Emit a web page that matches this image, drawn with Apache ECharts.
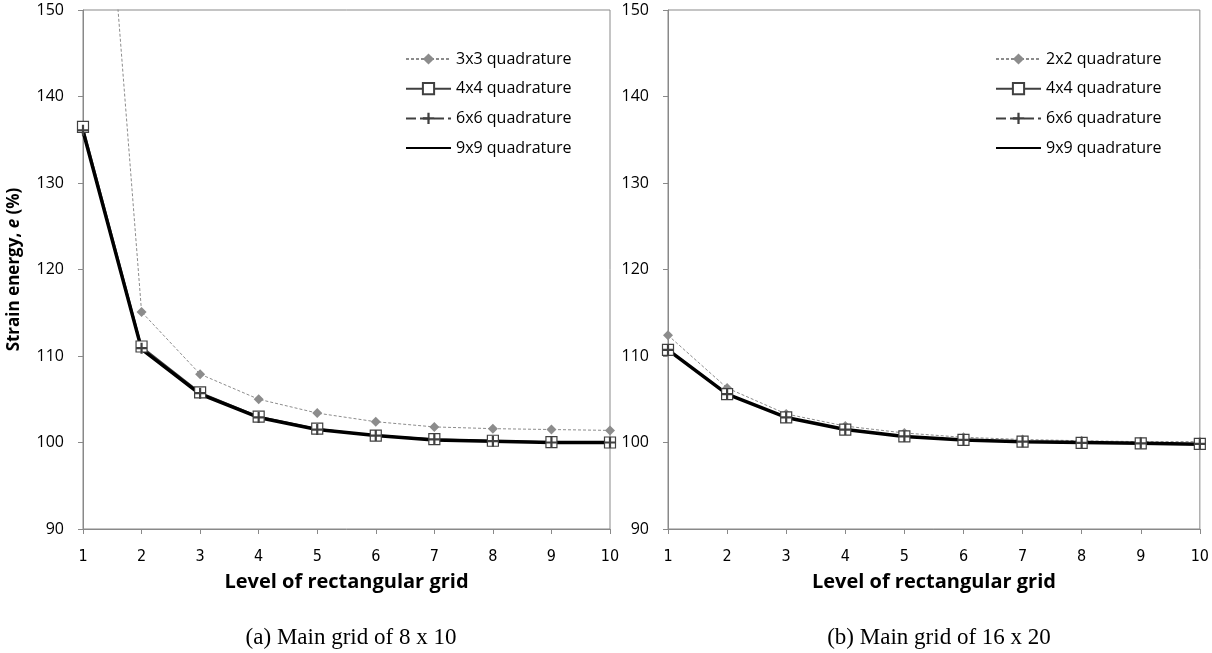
<!DOCTYPE html>
<html>
<head>
<meta charset="utf-8">
<script src="https://cdn.jsdelivr.net/npm/echarts@6/dist/echarts.min.js"></script>
<style>
  html, body { margin: 0; padding: 0; background: #fff; }
  #chart { width: 1212px; height: 653px; }
</style>
</head>
<body>
<div id="chart"></div>
<script>
// levels of the rectangular grid
const levels = [1, 2, 3, 4, 5, 6, 7, 8, 9, 10];

// (a) main grid of 8 x 10
const a_q3 = [202, 115.1, 107.9, 105.0, 103.4, 102.4, 101.8, 101.6, 101.5, 101.4];
const a_q4 = [136.5, 111.1, 105.8, 103.0, 101.6, 100.8, 100.4, 100.2, 100.05, 100.0];
const a_q6 = [136.1, 110.9, 105.7, 102.9, 101.5, 100.8, 100.35, 100.15, 100.0, 100.0];
const a_q9 = [136.0, 110.8, 105.6, 102.9, 101.5, 100.8, 100.3, 100.15, 100.0, 100.0];

// (b) main grid of 16 x 20
const b_q2 = [112.4, 106.3, 103.3, 101.9, 101.1, 100.6, 100.35, 100.2, 100.1, 100.1];
const b_q4 = [110.7, 105.6, 102.9, 101.5, 100.7, 100.3, 100.1, 99.95, 99.9, 99.85];
const b_q6 = [110.7, 105.6, 102.9, 101.5, 100.7, 100.3, 100.1, 99.95, 99.9, 99.85];
const b_q9 = [110.7, 105.6, 102.9, 101.5, 100.7, 100.3, 100.1, 100.0, 99.9, 99.8];

const yTicks = [90, 100, 110, 120, 130, 140, 150];

const pair = (vals) => levels.map((x, i) => [x, vals[i]]);

const narrowFont = '"Liberation Sans Narrow", "DejaVu Sans Condensed", "Open Sans", sans-serif';
const sansFont = '"Open Sans", "Noto Sans", sans-serif';
const axisGray = '#898989';
const plusPath = 'path://M4,0H6V4H10V6H6V10H4V6H0V4H4Z';

function makeSeries(name, data, idx, kind) {
  const s = { name: name, type: 'line', xAxisIndex: idx, yAxisIndex: idx, data: pair(data), animation: false };
  if (kind === 'thin') {
    s.symbol = 'diamond'; s.symbolSize = 10;
    s.itemStyle = { color: '#8c8c8c' };
    s.lineStyle = { color: '#8c8c8c', width: 1, type: [3, 2] };
  } else if (kind === 'square') {
    s.symbol = 'rect'; s.symbolSize = 11;
    s.itemStyle = { color: '#fff', borderColor: '#404040', borderWidth: 1.2 };
    s.lineStyle = { color: '#404040', width: 1.5 };
  } else if (kind === 'plus') {
    s.symbol = plusPath; s.symbolSize = 11;
    s.itemStyle = { color: '#404040' };
    s.lineStyle = { color: '#404040', width: 1.5, type: [10, 4] };
  } else {
    s.symbol = 'none';
    s.itemStyle = { color: '#000' };
    s.lineStyle = { color: '#000', width: 3.5 };
  }
  return s;
}

function xAxisFor(idx) {
  return {
    type: 'value', gridIndex: idx, min: 1, max: 10, interval: 1,
    name: 'Level of rectangular grid', nameLocation: 'middle', nameGap: 43,
    nameTextStyle: { fontFamily: sansFont, fontWeight: 'bold', fontSize: 20, color: '#000' },
    axisLine: { lineStyle: { color: axisGray, width: 1 } },
    axisTick: { length: 5, lineStyle: { color: axisGray } },
    axisLabel: { fontFamily: narrowFont, fontSize: 16, color: '#000', margin: 20 },
    splitLine: { show: false }
  };
}

function yAxisFor(idx, withName) {
  const ax = {
    type: 'value', gridIndex: idx, min: yTicks[0], max: yTicks[yTicks.length - 1], interval: 10,
    axisLine: { show: true, lineStyle: { color: axisGray, width: 1 } },
    axisTick: { show: true, length: 5, lineStyle: { color: axisGray } },
    axisLabel: { fontFamily: sansFont, fontSize: 16, color: '#000', margin: 19 },
    splitLine: { show: false }
  };
  if (withName) {
    ax.name = '{b|Strain energy, }{i|e}{b| (%)}';
    ax.nameLocation = 'middle';
    ax.nameGap = 60;
    ax.nameTextStyle = {
      rich: {
        b: { fontFamily: sansFont, fontWeight: 'bold', fontSize: 17, color: '#000' },
        i: { fontFamily: sansFont, fontWeight: 'bold', fontStyle: 'italic', fontSize: 17, color: '#000' }
      }
    };
  }
  return ax;
}

function legendFor(names, left) {
  return {
    data: names.map((n, i) => i === 3 ? { name: n, itemStyle: { opacity: 0 } } : n),
    orient: 'vertical', left: left, top: 46, itemGap: 13.7,
    itemWidth: 45, itemHeight: 14,
    textStyle: { fontFamily: sansFont, fontSize: 16, color: '#000', lineHeight: 14 },
    selectedMode: false
  };
}

const chart = echarts.init(document.getElementById('chart'), null, { renderer: 'canvas' });
chart.setOption({
  backgroundColor: '#fff',
  title: [
    { text: '(a) Main grid of 8 x 10', left: 346, top: 621, textAlign: 'center',
      textStyle: { fontFamily: '"Liberation Serif", serif', fontWeight: 'normal', fontSize: 23, color: '#000' } },
    { text: '(b) Main grid of 16 x 20', left: 934, top: 621, textAlign: 'center',
      textStyle: { fontFamily: '"Liberation Serif", serif', fontWeight: 'normal', fontSize: 23, color: '#000' } }
  ],
  legend: [
    legendFor(['3x3 quadrature', '4x4 quadrature', '6x6 quadrature', '9x9 quadrature'], 400),
    legendFor(['2x2 quadrature', '4x4 quadrature', '6x6 quadrature', '9x9 quadrature'], 990)
  ],
  grid: [
    { left: 83, top: 10, width: 527, height: 519, show: true, borderColor: axisGray, borderWidth: 1 },
    { left: 668, top: 10, width: 533, height: 519, show: true, borderColor: axisGray, borderWidth: 1 }
  ],
  xAxis: [xAxisFor(0), xAxisFor(1)],
  yAxis: [yAxisFor(0, true), yAxisFor(1, false)],
  series: [
    makeSeries('3x3 quadrature', a_q3, 0, 'thin'),
    makeSeries('4x4 quadrature', a_q4, 0, 'square'),
    makeSeries('6x6 quadrature', a_q6, 0, 'plus'),
    makeSeries('9x9 quadrature', a_q9, 0, 'bold'),
    makeSeries('2x2 quadrature', b_q2, 1, 'thin'),
    makeSeries('4x4 quadrature', b_q4, 1, 'square'),
    makeSeries('6x6 quadrature', b_q6, 1, 'plus'),
    makeSeries('9x9 quadrature', b_q9, 1, 'bold')
  ]
});
</script>
</body>
</html>
